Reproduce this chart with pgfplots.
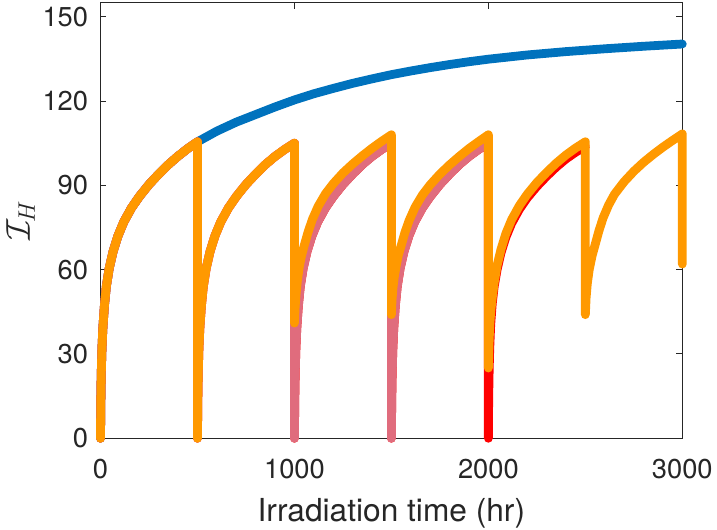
\documentclass[border=0pt]{standalone}
\usepackage{pgfplots}
\pgfplotsset{compat=1.18}
\usepackage{fontspec}
\setmainfont{TeX Gyre Heros}
\definecolor{mblue}{RGB}{0,114,189}
\definecolor{morange}{RGB}{255,153,0}
\definecolor{mpink}{RGB}{224,108,125}
\definecolor{mred}{RGB}{255,0,0}
\definecolor{axgray}{RGB}{38,38,38}
\begin{document}
\begin{tikzpicture}
\begin{axis}[
 scale only axis, width=290.9bp, height=217.8bp,
 xmin=0, xmax=3000, ymin=0, ymax=155,
 xtick={0,1000,2000,3000}, ytick={0,30,60,90,120,150},
 minor tick num=0,
 tick align=inside, major tick length=3bp,
 axis line style={axgray, line width=0.5bp},
 every tick/.style={axgray, line width=0.5bp},
 tick label style={font=\fontsize{13.7}{16}\selectfont, text=axgray},
 /pgf/number format/assume math mode=true,
 /pgf/number format/1000 sep={},
 xticklabel style={anchor=north, inner sep=0pt, yshift=-10bp},
 yticklabel style={anchor=east, inner sep=0pt, xshift=-6bp},
 xlabel={Irradiation time (hr)},
 xlabel style={at={(axis description cs:0.5,-0.1377)}, anchor=north, inner sep=0pt, font=\fontsize{15.9}{18}\selectfont, text=axgray},
 ylabel={$\mathcal{I}_H$},
 ylabel style={at={(axis description cs:-0.112,0.5)}, anchor=south, inner sep=0pt, font=\fontsize{17}{20}\selectfont, text=axgray},
 clip=false,
 every axis plot/.append style={line width=4.4bp, line cap=round, line join=round, mark=none},
]
% continuous irradiation
\addplot[mblue] coordinates {
(0,0)(1,9)(2,15)(4,23)(7,31)(12,39)(20,47)(30,54)(45,60.5)(65,66.5)(90,72)(120,77)(160,82)(200,86)(250,90.3)(300,94)(350,97.4)(400,100.4)(450,103.1)(500,105.5)
(600,109.3)(700,112.5)(800,115.2)(900,117.9)(1000,120.4)(1100,122.6)(1200,124.5)(1300,126.3)(1400,127.9)(1500,129.4)(1600,130.7)(1700,131.9)(1800,133)(1900,134)(2000,134.9)(2200,136.4)(2400,137.6)(2600,138.6)(2800,139.5)(3000,140.3)
};
% full reset up to 2500 h
\addplot[mred] coordinates {
(0,0)(1,9)(2,15)(4,23)(7,31)(12,39)(20,47)(30,54)(45,60.5)(65,66.5)(90,72)(120,77)(160,82)(200,86)(250,90.3)(300,94)(350,97.4)(400,100.4)(450,103.1)(500,105.5)
(500,0)(501,9)(502,15)(504,23)(507,31)(512,39)(520,47)(530,54)(545,60.5)(565,66.5)(590,72)(620,77)(660,82)(700,86)(750,90.3)(800,94)(850,97.4)(900,100.3)(950,102.8)(1000,105)
(1000,0)(1001,9)(1002,15)(1004,23)(1007,31)(1012,39)(1020,47)(1030,54)(1045,60.5)(1065,66.5)(1090,72)(1120,77)(1160,82)(1200,86)(1250,90.3)(1300,94)(1350,97.4)(1400,100.3)(1450,102.8)(1500,105)
(1500,0)(1501,9)(1502,15)(1504,23)(1507,31)(1512,39)(1520,47)(1530,54)(1545,60.5)(1565,66.5)(1590,72)(1620,77)(1660,82)(1700,86)(1750,90.3)(1800,94)(1850,97.4)(1900,100.3)(1950,102.8)(2000,105)
(2000,0)(2001,10)(2002,16)(2004,24)(2007,32)(2012,40.5)(2020,48)(2030,54)(2045,60)(2065,66)(2090,71.5)(2120,76.5)(2160,81.5)(2200,85.5)(2250,89.6)(2300,93.2)(2350,96.5)(2400,99.4)(2450,101.8)(2500,103.8)
};
% full reset up to 2000 h
\addplot[mpink] coordinates {
(0,0)(1,9)(2,15)(4,23)(7,31)(12,39)(20,47)(30,54)(45,60.5)(65,66.5)(90,72)(120,77)(160,82)(200,86)(250,90.3)(300,94)(350,97.4)(400,100.4)(450,103.1)(500,105.5)
(500,0)(501,9)(502,15)(504,23)(507,31)(512,39)(520,47)(530,54)(545,60.5)(565,66.5)(590,72)(620,77)(660,82)(700,86)(750,90.3)(800,94)(850,97.4)(900,100.3)(950,102.8)(1000,105)
(1000,0)(1001,9)(1002,15)(1004,23)(1007,31)(1012,39)(1020,47)(1030,54)(1045,60.5)(1065,66.5)(1090,72)(1120,77)(1160,82)(1200,86)(1250,90.3)(1300,94)(1350,97.4)(1400,100.3)(1450,102.8)(1500,105)
(1500,0)(1501,9)(1502,15)(1504,23)(1507,31)(1512,39)(1520,47)(1530,54)(1545,60.5)(1565,66.5)(1590,72)(1620,77)(1660,82)(1700,86)(1750,90.3)(1800,94)(1850,97.4)(1900,100.3)(1950,102.8)(2000,105)
};
% partial recovery
\addplot[morange] coordinates {
(0,0)(1,9)(2,15)(4,23)(7,31)(12,39)(20,47)(30,54)(45,60.5)(65,66.5)(90,72)(120,77)(160,82)(200,86)(250,90.3)(300,94)(350,97.4)(400,100.4)(450,103.1)(500,105.5)
(500,0)(501,9)(502,15)(504,23)(507,31)(512,39)(520,47)(530,54)(545,60.5)(565,66.5)(590,72)(620,77)(660,82)(700,86)(750,90.3)(800,94)(850,97.4)(900,100.3)(950,102.8)(1000,105)
(1000,41)(1003,46)(1008,51)(1015,56)(1025,61)(1035,64.5)(1050,68.5)(1070,73.3)(1092,77.8)(1122,82.5)(1160,87)(1200,90.6)(1250,94.4)(1300,97.6)(1350,100.5)(1400,103.2)(1450,105.7)(1500,108)
(1500,44)(1503,49)(1508,53.5)(1515,57.5)(1525,61.5)(1535,65)(1550,68.5)(1570,73.3)(1592,77.6)(1622,82.2)(1660,86.6)(1700,90.2)(1750,94)(1800,97.3)(1850,100.3)(1900,103.1)(1950,105.6)(2000,108)
(2000,25)(2003,33)(2007,40)(2012,45)(2020,50)(2030,55.5)(2045,61.5)(2065,67.2)(2090,72.8)(2120,77.8)(2160,82.8)(2200,86.8)(2250,91)(2300,94.6)(2350,97.9)(2400,100.8)(2450,103.3)(2500,105.5)
(2500,44)(2504,50)(2510,55)(2520,60)(2535,65)(2549,68.5)(2570,73.8)(2592,78.5)(2620,83)(2650,86.8)(2700,91.3)(2750,95)(2800,98.2)(2850,101)(2900,103.6)(2950,106)(3000,108.3)
(3000,62)
};
\coordinate (SW) at (rel axis cs:0,0);
\coordinate (NE) at (rel axis cs:1,1);
\end{axis}
\pgfresetboundingbox
\useasboundingbox ([shift={(-50.25bp,-45.85bp)}]SW) rectangle ([shift={(17.35bp,1.35bp)}]NE);
\end{tikzpicture}
\end{document}
